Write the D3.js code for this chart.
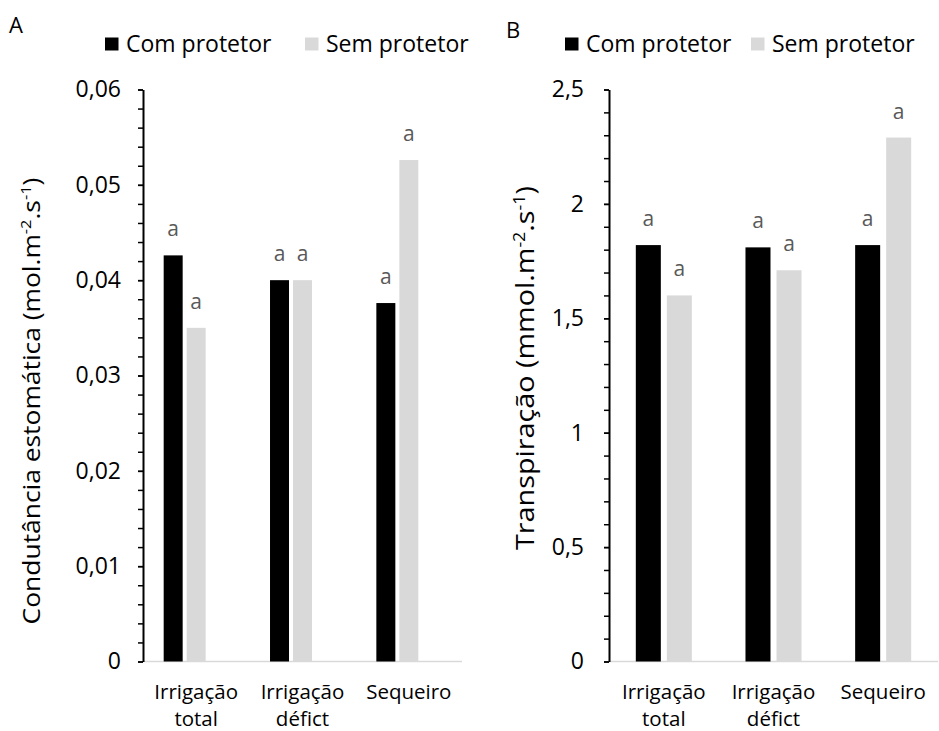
<!DOCTYPE html>
<html><head><meta charset="utf-8">
<script src="https://cdn.jsdelivr.net/npm/d3@7"></script>
<style>
html,body{margin:0;padding:0;background:#fff;}
svg{display:block;font-family:"Open Sans",sans-serif;}
</style></head>
<body>
<svg id="chart" width="939" height="731"></svg>
<script>
// ---- data ----
const categories = ["Irrigação total", "Irrigação défict", "Sequeiro"];
const categoryLines = [["Irrigação", "total"], ["Irrigação", "défict"], ["Sequeiro"]];
const series = ["Com protetor", "Sem protetor"];
const seriesColors = ["#000000", "#d9d9d9"];

const condComProtetor = [0.0426, 0.0400, 0.0376];
const condSemProtetor = [0.0350, 0.0400, 0.0526];
const condLetters = [["a", "a"], ["a", "a"], ["a", "a"]];

const transpComProtetor = [1.82, 1.81, 1.82];
const transpSemProtetor = [1.60, 1.71, 2.29];
const transpLetters = [["a", "a"], ["a", "a"], ["a", "a"]];

const ticksA = [0, 0.01, 0.02, 0.03, 0.04, 0.05, 0.06];
const tickLabelsA = ["0", "0,01", "0,02", "0,03", "0,04", "0,05", "0,06"];
const ticksB = [0, 0.5, 1, 1.5, 2, 2.5];
const tickLabelsB = ["0", "0,5", "1", "1,5", "2", "2,5"];

const svg = d3.select("#chart");

function panel(opts) {
  const g = svg.append("g");
  const y = d3.scaleLinear().domain(opts.domain).range([661.5, 89.5]);
  const x0 = d3.scaleBand().domain(categories).range(opts.xRange)
    .paddingInner(opts.pad).paddingOuter(opts.pad / 2);
  const x1 = d3.scaleBand().domain(opts.slots).range([0, x0.bandwidth()])
    .paddingInner(opts.subPad);

  // baseline
  g.append("line")
    .attr("x1", opts.xRange[0]).attr("x2", opts.xRange[1])
    .attr("y1", y(0)).attr("y2", y(0))
    .attr("stroke", "#d9d9d9").attr("stroke-width", 1.5);

  // bars
  const valueSets = [opts.com, opts.sem];
  categories.forEach((c, i) => {
    series.forEach((s, j) => {
      const v = valueSets[j][i];
      g.append("rect")
        .attr("x", x0(c) + x1(s))
        .attr("y", y(v))
        .attr("width", x1.bandwidth())
        .attr("height", y(0) - y(v))
        .attr("fill", seriesColors[j]);
      g.append("text")
        .attr("x", x0(c) + x1(s) + x1.bandwidth() / 2)
        .attr("y", y(v) - 19)
        .attr("text-anchor", "middle")
        .attr("font-size", 21)
        .attr("fill", "#595959")
        .text(opts.letters[i][j]);
    });
    // category labels
    const center = x0(c) + x0.bandwidth() / 2;
    const t = g.append("text").attr("text-anchor", "middle").attr("font-size", 20.5).attr("fill", "#000");
    categoryLines[i].forEach((ln, k) => {
      t.append("tspan").attr("x", center).attr("y", 699 + k * 27).text(ln);
    });
  });

  // minor ticks
  const minor = d3.axisLeft(y).tickValues(d3.range(0, opts.domain[1] + 1e-9, opts.minorStep))
    .tickSize(5).tickFormat("").tickSizeOuter(0);
  g.append("g").attr("transform", `translate(${opts.xRange[0]},0)`).call(minor)
    .call(a => a.selectAll("line").attr("stroke", "#000").attr("stroke-width", 1.5))
    .call(a => a.select(".domain").remove());

  // major axis
  const axis = d3.axisLeft(y).tickValues(opts.ticks)
    .tickFormat((d, i) => opts.tickLabels[i]).tickSize(5).tickSizeOuter(0).tickPadding(opts.tickPad);
  g.append("g").attr("transform", `translate(${opts.xRange[0]},0)`).call(axis)
    .call(a => a.select(".domain").attr("stroke", "#000").attr("stroke-width", 2))
    .call(a => a.selectAll("line").attr("stroke", "#000").attr("stroke-width", 1.5))
    .call(a => a.selectAll("text").attr("font-size", 23).attr("fill", "#000")
      .attr("font-family", "'Open Sans',sans-serif"));

  // y title
  const tt = g.append("text")
    .attr("transform", `translate(${opts.titleX},${opts.titleY}) rotate(-90) scale(${opts.titleStretch},1)`)
    .attr("text-anchor", "middle").attr("font-size", opts.titleSize).attr("fill", "#000");
  tt.append("tspan").text(opts.titleMain);
  tt.append("tspan").attr("font-size", opts.titleSize * 0.62).attr("dy", -opts.titleSize * 0.38).text("-2");
  tt.append("tspan").attr("dy", opts.titleSize * 0.38).text(".s");
  tt.append("tspan").attr("font-size", opts.titleSize * 0.62).attr("dy", -opts.titleSize * 0.38).text("-1");
  tt.append("tspan").attr("dy", opts.titleSize * 0.38).text(")");

  // panel letter
  g.append("text").attr("x", opts.letterX).attr("y", opts.letterY)
    .attr("font-size", 22).attr("fill", "#000").text(opts.letter);

  // legend
  series.forEach((s, j) => {
    g.append("rect").attr("x", opts.legendX[j]).attr("y", 37.5)
      .attr("width", 13.5).attr("height", 13).attr("fill", seriesColors[j]);
    g.append("text").attr("x", opts.legendX[j] + 21).attr("y", 51.5)
      .attr("font-size", 23).attr("fill", "#000").text(s);
  });
}

panel({
  domain: [0, 0.06], ticks: ticksA, tickLabels: tickLabelsA, minorStep: 0.002,
  xRange: [143, 462], pad: 0.389, slots: [...series, "(vazio)"], subPad: 0.174,
  com: condComProtetor, sem: condSemProtetor, letters: condLetters,
  tickPad: 17, titleX: 40, titleY: 401, titleSize: 24, titleStretch: 1.1,
  titleMain: "Condutância estomática (mol.m",
  letter: "A", letterX: 9, letterY: 33, legendX: [105, 305]
});
panel({
  domain: [0, 2.5], ticks: ticksB, tickLabels: tickLabelsB, minorStep: 0.1,
  xRange: [609, 938], pad: 0.489, slots: series, subPad: 0.1935,
  com: transpComProtetor, sem: transpSemProtetor, letters: transpLetters,
  tickPad: 20, titleX: 534, titleY: 368, titleSize: 25, titleStretch: 1.15,
  titleMain: "Transpiração (mmol.m",
  letter: "B", letterX: 506, letterY: 38, legendX: [565, 751]
});
</script>
</body></html>
